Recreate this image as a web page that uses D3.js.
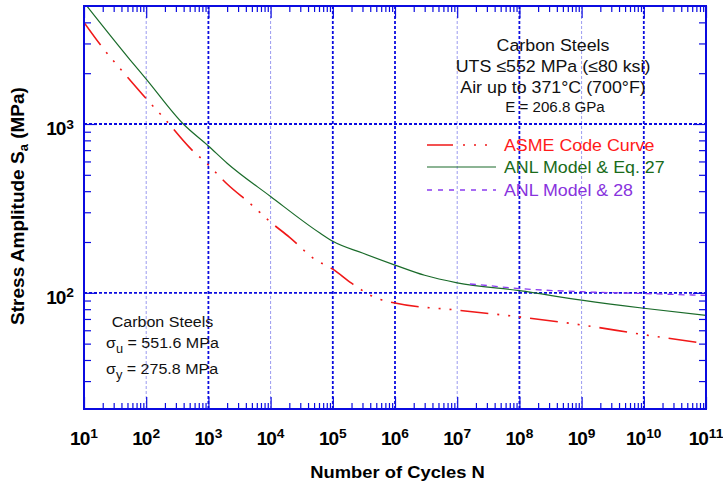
<!DOCTYPE html>
<html><head><meta charset="utf-8">
<script src="https://cdn.jsdelivr.net/npm/d3@7"></script>
<style>body{margin:0;background:#fff}svg{display:block}</style>
</head><body>
<svg id="c" width="723" height="486"></svg>
<script>
// ---------- data ----------
const asmeCycles = [1e1, 2e1, 5e1, 1e2, 2e2, 5e2, 1e3, 2e3, 5e3, 1e4, 2e4, 5e4, 1e5, 2e5, 5e5, 1e6, 1e7, 1e8, 1e9, 1e10, 1e11];
const asmeStress = [3999, 2827, 1896, 1413, 1069, 724, 572, 441, 331, 262, 214, 159, 138, 114, 93.1, 87, 79, 72, 64.5, 56.5, 50];
const eq27Cycles = [1e1, 5.5e1, 1e2, 3.95e2, 1e3, 2e3, 1e4, 6.2e4, 1e5, 3e5, 1e6, 3e6, 1e7, 1e8, 1e9, 1e10, 1e11];
const eq27Stress = [5250, 2400, 1845, 1000, 741, 586, 372, 226, 202, 172, 146, 127, 114.6, 103, 90.5, 81, 73.5];
const eq28Cycles = [1.6e7, 3e7, 1e8, 1e9, 1e10, 1e11];
const eq28Stress = [112.8, 110.5, 106, 101.5, 99, 96.5];
const xTickExponents = [1, 2, 3, 4, 5, 6, 7, 8, 9, 10, 11];
const yTickExponents = [2, 3];
const legendLabels = ["ASME Code Curve", "ANL Model & Eq. 27", "ANL Model & 28"];
const boxLines = ["Carbon Steels", "UTS \u2264552 MPa (\u226480 ksi)", "Air up to 371\u00b0C (700\u00b0F)"];
const boxLineSmall = "E = 206.8 GPa";

// ---------- layout ----------
const L = 84, R = 706, T = 6, B = 409;
const svg = d3.select("#c");
const x = d3.scaleLog().domain([1e1, 1e11]).range([L, R]);
const y = d3.scaleLog().domain([20.5, 5000]).range([B, T]);
const BLUE = "#0b0be0", LIGHT = "#9a9af0";
const FONT = "'Liberation Sans', Arial, Helvetica, sans-serif";

// ---------- grid ----------
const thickX = [1e3, 1e5, 1e6, 1e8, 1e10];
const thinX = [1e2, 1e4, 1e7, 1e9];
svg.append("g").selectAll("line").data(thinX).join("line")
  .attr("x1", d => x(d)).attr("x2", d => x(d)).attr("y1", T).attr("y2", B)
  .attr("stroke", LIGHT).attr("stroke-width", 1).attr("stroke-dasharray", "3,2");
svg.append("g").selectAll("line").data(thickX).join("line")
  .attr("x1", d => x(d)).attr("x2", d => x(d)).attr("y1", T).attr("y2", B)
  .attr("stroke", BLUE).attr("stroke-width", 1.8).attr("stroke-dasharray", "3,2");
svg.append("g").selectAll("line").data([100, 1000]).join("line")
  .attr("x1", L).attr("x2", R).attr("y1", d => y(d)).attr("y2", d => y(d))
  .attr("stroke", BLUE).attr("stroke-width", 1.8).attr("stroke-dasharray", "3,2");

// ---------- axes (inward ticks) ----------
const xMajor = xTickExponents.map(e => Math.pow(10, e));
const xMinor = d3.range(1, 11).flatMap(e => d3.range(2, 10).map(m => m * Math.pow(10, e)));
const yMajor = yTickExponents.map(e => Math.pow(10, e));
const yMinor = [30, 40, 50, 60, 70, 80, 90, 200, 300, 400, 500, 600, 700, 800, 900, 2000, 3000, 4000];

function styleAxis(g) {
  g.select(".domain").remove();
  g.selectAll("line").attr("stroke", BLUE).attr("stroke-width", 1.2);
  g.selectAll("text").remove();
}
svg.append("g").attr("transform", `translate(0,${B})`)
  .call(d3.axisBottom(x).tickValues(xMinor).tickSize(-6).tickFormat(() => "")).call(styleAxis);
svg.append("g").attr("transform", `translate(0,${B})`)
  .call(d3.axisBottom(x).tickValues(xMajor).tickSize(-12).tickFormat(() => "")).call(styleAxis);
svg.append("g").attr("transform", `translate(0,${T})`)
  .call(d3.axisTop(x).tickValues(xMinor).tickSize(-6).tickFormat(() => "")).call(styleAxis);
svg.append("g").attr("transform", `translate(0,${T})`)
  .call(d3.axisTop(x).tickValues(xMajor).tickSize(-12).tickFormat(() => "")).call(styleAxis);
svg.append("g").attr("transform", `translate(${L},0)`)
  .call(d3.axisLeft(y).tickValues(yMinor).tickSize(-7).tickFormat(() => "")).call(styleAxis);
svg.append("g").attr("transform", `translate(${L},0)`)
  .call(d3.axisLeft(y).tickValues(yMajor).tickSize(-13).tickFormat(() => "")).call(styleAxis);
svg.append("g").attr("transform", `translate(${R},0)`)
  .call(d3.axisRight(y).tickValues(yMinor).tickSize(-7).tickFormat(() => "")).call(styleAxis);
svg.append("g").attr("transform", `translate(${R},0)`)
  .call(d3.axisRight(y).tickValues(yMajor).tickSize(-13).tickFormat(() => "")).call(styleAxis);

// ---------- curves ----------
svg.append("clipPath").attr("id", "clip").append("rect")
  .attr("x", L).attr("y", T).attr("width", R - L).attr("height", B - T);
const plot = svg.append("g").attr("clip-path", "url(#clip)");
const lineGen = d3.line().x(d => x(d[0])).y(d => y(d[1])).curve(d3.curveMonotoneX);
const zip = (a, b) => a.map((v, i) => [v, b[i]]);

plot.append("path").datum(zip(asmeCycles, asmeStress)).attr("d", lineGen)
  .attr("fill", "none").attr("stroke", "#f01818").attr("stroke-width", 1.6)
  .attr("stroke-dasharray", "28,9,2,9,2,9,2,9");
plot.append("path").datum(zip(eq27Cycles, eq27Stress)).attr("d", lineGen)
  .attr("fill", "none").attr("stroke", "#1a6b2a").attr("stroke-width", 1.2);
plot.append("path").datum(zip(eq28Cycles, eq28Stress)).attr("d", lineGen)
  .attr("fill", "none").attr("stroke", "#8a3cf0").attr("stroke-width", 1.3)
  .attr("stroke-dasharray", "6,5");

// ---------- frame ----------
svg.append("rect").attr("x", L).attr("y", T).attr("width", R - L).attr("height", B - T)
  .attr("fill", "none").attr("stroke", BLUE).attr("stroke-width", 2);

// ---------- text helper ----------
function label(px, py, opts) {
  const g = svg.append("g").attr("transform", `translate(${px},${py}) scale(${opts.sx || 1},1)`);
  const t = g.append("text").attr("x", 0).attr("y", 0)
    .attr("font-family", FONT).attr("font-size", opts.size)
    .attr("font-weight", opts.bold ? "bold" : "normal")
    .attr("fill", opts.color || "#111")
    .attr("text-anchor", opts.anchor || "start");
  return t;
}

// x tick labels
xTickExponents.forEach(e => {
  const t = label(x(Math.pow(10, e)), 445, {size: 18, bold: true, sx: 1.06, anchor: "middle", color: "#000"});
  t.append("tspan").text("10").attr("letter-spacing", "-1");
  t.append("tspan").text(e).attr("font-size", 13).attr("dy", -7).attr("dx", 1);
});
// y tick labels
yTickExponents.forEach(e => {
  const t = label(74, y(Math.pow(10, e)) + 11.5, {size: 18, bold: true, sx: 1.06, anchor: "end", color: "#000"});
  t.append("tspan").text("10").attr("letter-spacing", "-1");
  t.append("tspan").text(e).attr("font-size", 13).attr("dy", -7).attr("dx", 1);
});

// axis titles
label(397.5, 478, {size: 17, bold: true, sx: 1.08, anchor: "middle", color: "#000"}).text("Number of Cycles N");
{
  const t = svg.append("text").attr("transform", "translate(24,206) rotate(-90)")
    .attr("font-family", FONT).attr("font-size", 19).attr("font-weight", "bold")
    .attr("fill", "#000").attr("text-anchor", "middle");
  t.append("tspan").text("Stress Amplitude S");
  t.append("tspan").text("a").attr("font-size", 13).attr("dy", 4);
  t.append("tspan").text(" (MPa)").attr("dy", -4);
}

// top-right annotation box
boxLines.forEach((s, i) => {
  label(553, 51 + i * 21, {size: 16.5, sx: 1.08, anchor: "middle"}).text(s);
});
label(555, 112, {size: 14, sx: 1.08, anchor: "middle"}).text(boxLineSmall);

// legend
const legendColors = ["#f01818", "#1a6b2a", "#8a3cf0"];
const legendTextColors = ["#ff1a1a", "#1a6b1a", "#8833dd"];
const legendDash = ["26,10,2,9,2,9,2,9", null, "5,6"];
const legendY = [145, 167, 190];
legendLabels.forEach((s, i) => {
  svg.append("line").attr("x1", 427).attr("x2", 496).attr("y1", legendY[i]).attr("y2", legendY[i])
    .attr("stroke", legendColors[i]).attr("stroke-width", i === 1 ? 1.2 : 1.4)
    .attr("stroke-dasharray", legendDash[i]);
  label(504, legendY[i] + 6, {size: 16.5, sx: 1.08, color: legendTextColors[i]}).text(s);
});

// bottom-left annotation
label(162.5, 327, {size: 15, sx: 1.07, anchor: "middle"}).text("Carbon Steels");
{
  const t = label(106, 348, {size: 15, sx: 1.07});
  t.append("tspan").text("\u03c3");
  t.append("tspan").text("u").attr("font-size", 12).attr("dy", 5);
  t.append("tspan").text(" = 551.6 MPa").attr("dy", -5);
  const t2 = label(106, 374, {size: 15, sx: 1.07});
  t2.append("tspan").text("\u03c3");
  t2.append("tspan").text("y").attr("font-size", 12).attr("dy", 5);
  t2.append("tspan").text(" = 275.8 MPa").attr("dy", -5);
}
</script>
</body></html>
